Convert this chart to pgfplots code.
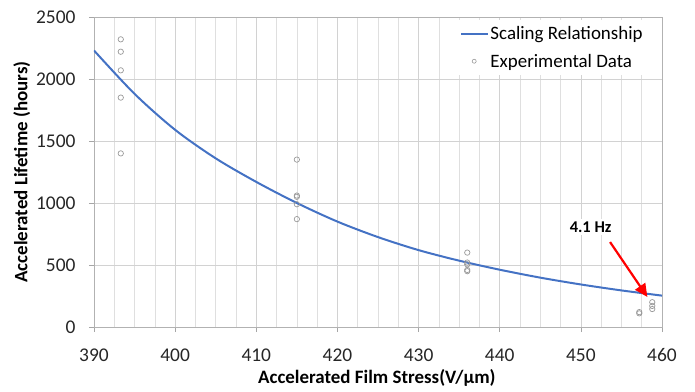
\documentclass[border=0pt]{standalone}
\usepackage{pgfplots}
\pgfplotsset{compat=1.18}
\usepackage{fontspec}
\setmainfont{Carlito}
\usetikzlibrary{arrows.meta}
\definecolor{lineblue}{RGB}{68,114,196}
\begin{document}
\begin{tikzpicture}
\begin{axis}[
  scale only axis, width=568bp, height=310bp,
  xmin=390, xmax=460, ymin=0, ymax=2500,
  xtick={390,400,...,460}, ytick={0,500,...,2500},
  minor x tick num=3,
  grid=both,
  major grid style={gray!35, line width=0.6pt},
  minor grid style={gray!25, line width=0.6pt},
  axis line style={gray!60},
  tick style={gray!70, line width=0.6pt},
  tick align=outside, major tick length=5bp, minor tick length=0pt,
  xtick pos=bottom, ytick pos=left,
  /pgf/number format/assume math mode=true,
  /pgf/number format/1000 sep={},
  ticklabel style={font=\fontsize{19.5}{22}\selectfont, text=black!85},
  yticklabel style={xshift=-10bp},
  xticklabel style={yshift=-13bp},
  xlabel={\textbf{Accelerated Film Stress(V/µm)}},
  ylabel={\textbf{Accelerated Lifetime (hours)}},
  label style={font=\fontsize{19}{22}\selectfont},
  xlabel style={at={(axis description cs:0.498,-0.165)}, anchor=center},
  ylabel style={at={(axis description cs:-0.127,0.5)}, anchor=center, rotate=0},
  legend style={at={(axis description cs:0.975,0.99)}, anchor=north east, draw=none, fill=white,
    font=\fontsize{19}{22}\selectfont, row sep=9bp, inner sep=4bp,
    nodes={inner xsep=1bp}},
  legend cell align=left,
]
\addplot[color=lineblue, line width=2pt, smooth, no marks,
  legend image code/.code={\draw[lineblue, line width=2.2pt] (0cm,0cm) -- (0.95cm,0cm);}] coordinates {
(390,2230) (395,1880) (400,1590) (405,1360) (410,1170) (415,1000) (420,850) (425,725)
(430,620) (435,535) (440,462) (445,398) (450,343) (455,295) (460,253)};
\addlegendentry{Scaling Relationship}
\addplot[only marks, mark=o, mark size=2.7pt, color=gray!80, mark options={line width=0.7pt},
  legend image code/.code={\draw[gray!80, line width=0.6pt] (0.45cm,0cm) circle (2bp);}] coordinates {
(393.3,2320) (393.3,2220) (393.3,2070) (393.3,1850) (393.3,1400)
(415,1350) (415,1060) (415,1050) (415,990) (415,870)
(436,600) (436,520) (436,505) (436,460) (436,450)
(457.2,120) (457.2,110)
(458.8,200) (458.8,170) (458.8,145)};
\addlegendentry{Experimental Data}
\node[fill=white, font=\bfseries\fontsize{16.5}{18}\selectfont, inner sep=3bp] at (axis cs:451.2,806) {4.1 Hz};
\draw[red, line width=2.2pt, -{Triangle[length=13bp,width=12bp]}] (axis cs:453.6,685) -- (axis cs:458.2,242);
\coordinate (bl) at (rel axis cs:0,0);
\end{axis}
\pgfresetboundingbox
\path[use as bounding box] (bl) ++(-94bp,-65bp) rectangle ++(695bp,392bp);
\end{tikzpicture}
\end{document}
